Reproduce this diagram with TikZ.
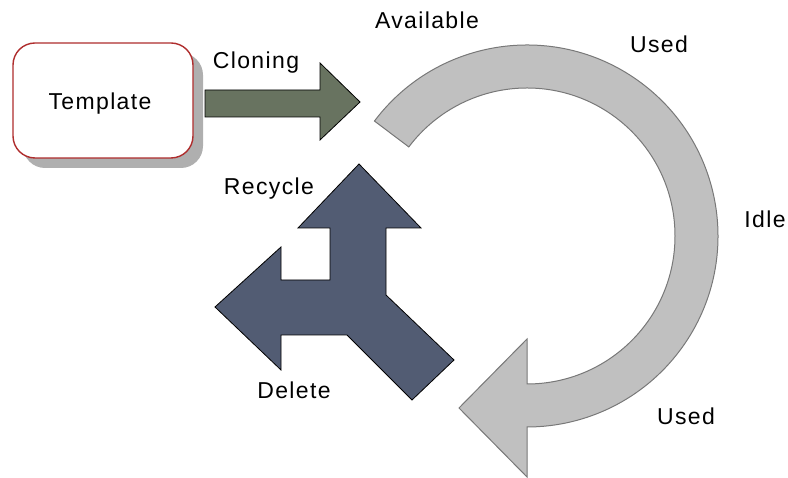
\documentclass[tikz,border=0pt]{standalone}
\usepackage{fontspec}
\setmainfont[LetterSpace=6]{Liberation Sans}
\usetikzlibrary{shadows,calc}
\definecolor{boxred}{RGB}{175,45,45}
\definecolor{shadowgray}{RGB}{175,175,175}
\definecolor{clonegreen}{RGB}{104,115,96}
\definecolor{slateblue}{RGB}{82,92,115}
\definecolor{arcfill}{RGB}{192,192,192}
\definecolor{arcline}{RGB}{120,120,120}
\tikzset{
  lbl/.style={inner sep=0pt, anchor=base, font=\fontsize{23}{27}\selectfont},
  tmpl/.style={draw=boxred, line width=1.4pt, fill=white, rounded corners=22pt,
    minimum width=180pt, minimum height=115pt, inner sep=0pt,
    drop shadow={shadow xshift=10pt, shadow yshift=-10pt, fill=shadowgray, opacity=1}},
  clonearrow/.style={fill=clonegreen, draw=black, line width=0.8pt, line join=miter},
  cyclearrow/.style={fill=arcfill, draw=arcline, line width=1pt, line join=miter},
  forkarrow/.style={fill=slateblue, draw=black, line width=0.8pt, line join=miter}
}
\begin{document}
\begin{tikzpicture}[x=1pt,y=1pt]
\useasboundingbox (0,0) rectangle (788,478);
% template box
\node[tmpl] (template) at (103,377.5) {};
\node[lbl] (templatetext) at (100,368) {Template};
% cloning arrow
\draw[clonearrow] (205,388) -- (320,388) -- (320,415) -- (360,376) -- (320,338) -- (320,361) -- (205,361) -- cycle;
\node[lbl] (cloning) at (256,409) {Cloning};
% circular arrow
\coordinate (cc) at (527,242);
\draw[cyclearrow] ($(cc)+(143:191)$) arc[start angle=143, end angle=-90, radius=191]
  -- (527,1) -- (459,70) -- (527,139) -- (527,94)
  arc[start angle=-90, end angle=143, radius=148] -- cycle;
% fork arrow
\draw[forkarrow] (359,314) -- (421,250) -- (386,250) -- (386,183) -- (454,118) -- (412,78)
  -- (347,143) -- (281,143) -- (281,108) -- (215,171) -- (281,231) -- (281,198)
  -- (330,198) -- (330,250) -- (298,250) -- cycle;
% labels
\node[lbl] (available) at (427,449) {Available};
\node[lbl] (usedtop) at (659,425) {Used};
\node[lbl] (idle) at (765,250) {Idle};
\node[lbl] (usedbottom) at (686,53) {Used};
\node[lbl] (recycle) at (269,283) {Recycle};
\node[lbl] (delete) at (294,79) {Delete};
\end{tikzpicture}
\end{document}
